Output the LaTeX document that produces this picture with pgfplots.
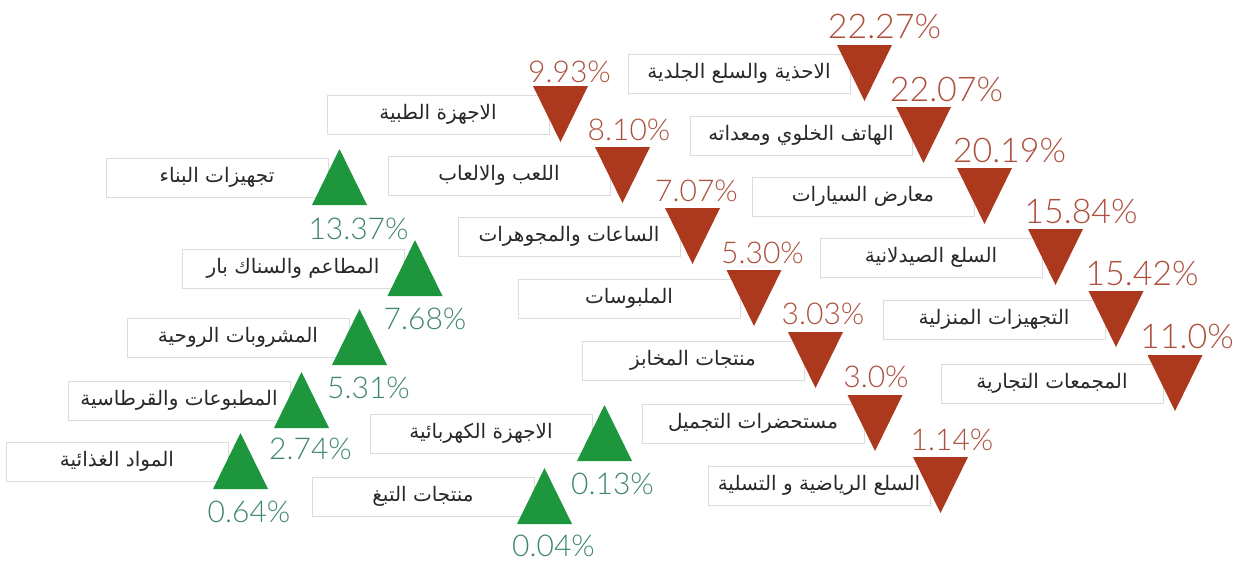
\documentclass[border=0pt]{standalone}
\usepackage{fontspec}
\setmainfont{Liberation Sans}
\newfontfamily\arabicfont[Script=Arabic]{DejaVu Sans}
\IfFontExistsTF{Lato Light}{\newfontfamily\pctfont{Lato Light}}{\newfontfamily\pctfont{Liberation Sans}}
\TeXXeTstate=1
\usepackage{pgfplots}
\pgfplotsset{compat=1.18}
\definecolor{redtri}{RGB}{172,56,30}
\definecolor{greentri}{RGB}{30,150,62}
\definecolor{redtxt}{RGB}{172,80,60}
\definecolor{greentxt}{RGB}{62,135,102}
\definecolor{boxline}{RGB}{220,220,220}
\definecolor{labeltxt}{RGB}{40,40,40}
\pgfdeclareplotmark{tdown}{%
  \pgfpathmoveto{\pgfqpoint{-27.5pt}{28pt}}%
  \pgfpathlineto{\pgfqpoint{27.5pt}{28pt}}%
  \pgfpathlineto{\pgfqpoint{0pt}{-28pt}}%
  \pgfpathclose\pgfusepathqfill}
\pgfdeclareplotmark{tup}{%
  \pgfpathmoveto{\pgfqpoint{-27.5pt}{-28pt}}%
  \pgfpathlineto{\pgfqpoint{27.5pt}{-28pt}}%
  \pgfpathlineto{\pgfqpoint{0pt}{28pt}}%
  \pgfpathclose\pgfusepathqfill}
\begin{document}
\begin{tikzpicture}
\begin{axis}[width=1236pt,height=566pt,scale only axis,
  xmin=0,xmax=1236,ymin=0,ymax=566,y dir=reverse,
  hide axis,clip=false,point meta=explicit symbolic]
% label boxes
\addplot[draw=none,mark=none,
  nodes near coords={{\arabicfont\pgfplotspointmeta}\hspace{20pt}},
  every node near coord/.append style={anchor=center,draw=boxline,fill=white,
    line width=0.8pt,minimum width=222pt,minimum height=39pt,inner sep=0pt,
    font=\fontsize{20}{24}\selectfont,text=labeltxt}]
coordinates {
(739,73.5) [\beginR الاحذية والسلع الجلدية\endR]
(801,135.5) [\beginR الهاتف الخلوي ومعداته\endR]
(863,196.5) [\beginR معارض السيارات\endR]
(931,257.5) [\beginR السلع الصيدلانية\endR]
(994,319.5) [\beginR التجهيزات المنزلية\endR]
(1052,383.5) [\beginR المجمعات التجارية\endR]
(438,114.5) [\beginR الاجهزة الطبية\endR]
(499,175.5) [\beginR اللعب والالعاب\endR]
(569,236.5) [\beginR الساعات والمجوهرات\endR]
(629,298.5) [\beginR الملبوسات\endR]
(693,360.5) [\beginR منتجات المخابز\endR]
(753,423.5) [\beginR مستحضرات التجميل\endR]
(819,485.5) [\beginR السلع الرياضية و التسلية\endR]
(217,177.5) [\beginR تجهيزات البناء\endR]
(293,268.5) [\beginR المطاعم والسناك بار\endR]
(238,337.5) [\beginR المشروبات الروحية\endR]
(179,400.5) [\beginR المطبوعات والقرطاسية\endR]
(117,461.5) [\beginR المواد الغذائية\endR]
(481,433.5) [\beginR الاجهزة الكهربائية\endR]
(423,496.5) [\beginR منتجات التبغ\endR]
};
% down triangles
\addplot[only marks,mark=tdown,color=redtri] coordinates {
(864.5,73) (923.5,135) (984.5,196) (1055.5,257) (1116,319) (1175,383)
(560.5,114) (622.5,175) (692.5,236) (754,298) (815.5,360) (875,423) (940.5,485)
};
% up triangles
\addplot[only marks,mark=tup,color=greentri] coordinates {
(339.5,177) (415,268) (359.5,337) (301.5,400) (240.5,461) (604.5,433) (544.5,496)
};
% red percentages (large)
\addplot[draw=none,mark=none,nodes near coords,
  every node near coord/.append style={anchor=center,inner sep=0pt,
    font=\pctfont\fontsize{34}{40}\selectfont,text=redtxt}]
coordinates {
(884.5,26) [22.27\%]
(946.5,89) [22.07\%]
(1009.5,150) [20.19\%]
(1081,211) [15.84\%]
(1142,273) [15.42\%]
(1187,336) [11.0\%]
};
% red percentages (small)
\addplot[draw=none,mark=none,nodes near coords,
  every node near coord/.append style={anchor=center,inner sep=0pt,
    font=\pctfont\fontsize{30}{35}\selectfont,text=redtxt}]
coordinates {
(569.5,71.5) [9.93\%]
(629,130) [8.10\%]
(696.5,191) [7.07\%]
(762.5,252.5) [5.30\%]
(823,314) [3.03\%]
(876,377) [3.0\%]
(952,439.5) [1.14\%]
};
% green percentages
\addplot[draw=none,mark=none,nodes near coords,
  every node near coord/.append style={anchor=center,inner sep=0pt,
    font=\pctfont\fontsize{30}{35}\selectfont,text=greentxt}]
coordinates {
(358.5,229) [13.37\%]
(425,319) [7.68\%]
(368.5,387.5) [5.31\%]
(310.5,448.5) [2.74\%]
(249,512) [0.64\%]
(612.5,484) [0.13\%]
(553.5,546) [0.04\%]
};
\end{axis}
\pgfresetboundingbox
\path[use as bounding box] (current axis.south west) rectangle (current axis.north east);
\end{tikzpicture}
\end{document}
